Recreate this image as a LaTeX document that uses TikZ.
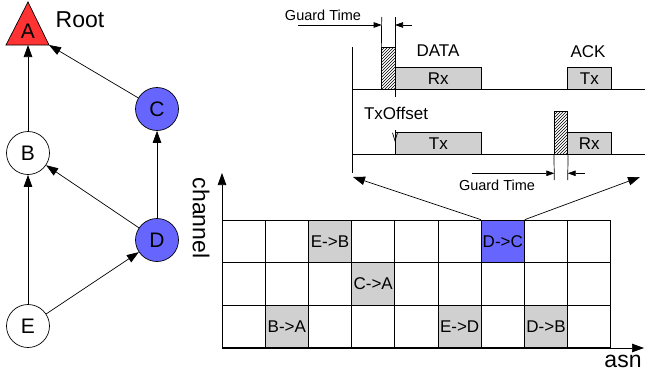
\documentclass[tikz,border=0pt]{standalone}
\usepackage{fontspec}
\setmainfont{Liberation Sans}
\usetikzlibrary{arrows.meta,patterns}
\definecolor{rootred}{HTML}{FF3333}
\definecolor{slotblue}{HTML}{6666FF}
\definecolor{slotgray}{HTML}{D0D0D0}
\begin{document}
\begin{tikzpicture}[x=1pt,y=-1pt,line width=0.7pt,
        >={Triangle[length=12pt,width=8.5pt]},
        every node/.style = {font=\fontsize{17}{19}\selectfont},
        mote/.style = {shape=circle, draw, fill=white,
            minimum size=43pt, inner sep=0pt, font=\fontsize{21}{23}\selectfont},
        cell/.style = {draw, minimum width=43.2pt, minimum height=42.6pt, inner sep=0pt},
        busy/.style = {cell, fill=slotgray},
        slot/.style = {draw, fill=slotgray, inner sep=0pt, minimum height=22.2pt},
        guard/.style = {draw, pattern=north east lines, inner sep=0pt},
        small/.style = {font=\fontsize{14.5}{16}\selectfont},
        big/.style = {font=\fontsize{23}{25}\selectfont},
        gt/.style = {-{Triangle[length=8pt,width=5.5pt]}}]
    \useasboundingbox (0,0) rectangle (645,378);

    \draw[fill=rootred] (28,2) -- (49,45) -- (6,45) -- cycle;
    \coordinate (Abase) at (28,45);
    \coordinate (Acorner) at (49,45);
    \node[font=\fontsize{21}{23}\selectfont] (A) at (28,31) {A};
    \node[big] (root) at (80,20) {Root};
    \node[mote] (B) at (28,153) {B};
    \node[mote, fill=slotblue] (C) at (157,109) {C};
    \node[mote, fill=slotblue] (D) at (157,240) {D};
    \node[mote] (E) at (28,326) {E};
    \draw[->] (B) -- (Abase);
    \draw[->] (C) -- (Acorner);
    \draw[->] (D) -- (C);
    \draw[->] (D) -- (B);
    \draw[->] (E) -- (B);
    \draw[->] (E) -- (D);

    \foreach \r in {1,2,3}
        \foreach \c in {1,...,9}
            \node[cell] (s\r\c) at ({222+43.2*\c-21.6},{220+42.6*\r-21.3}) {};
    \node[busy] at (s13) {E->B};
    \node[cell, fill=slotblue] (dc) at (s17) {D->C};
    \node[busy] at (s24) {C->A};
    \node[busy] at (s32) {B->A};
    \node[busy] at (s36) {E->D};
    \node[busy] at (s38) {D->B};
    \coordinate (o) at (222,348);
    \coordinate (ytop) at (222,173);
    \coordinate (xend) at (644,348);
    \draw[->] (o) -- (ytop);
    \draw[->] (o) -- (xend);
    \node[big, rotate=-90] (channel) at (201,218) {channel};
    \node[big] (asn) at (623,361) {asn};

    \draw (352,47) -- (352,173);
    \draw (352,89.5) -- (645,89.5);
    \draw (352,154.5) -- (645,154.5);
    \node[guard, minimum width=13.3pt, minimum height=42.2pt] (g1) at (388.35,68.4) {};
    \node[slot, minimum width=86.7pt] (rx1) at (438.35,78.4) {Rx};
    \node[slot, minimum width=43.3pt] (tx1) at (589.35,78.4) {Tx};
    \node[slot, minimum width=86.7pt] (tx2) at (438.35,143.6) {Tx};
    \node[guard, minimum width=13.4pt, minimum height=42.8pt] (g2) at (561,133.1) {};
    \node[slot, minimum width=43.3pt] (rx2) at (589.35,143.6) {Rx};
    \node (data) at (438,51) {DATA};
    \node (ack) at (588,52) {ACK};
    \node (txoff) at (396,113) {TxOffset};

    \draw (381.7,17) -- (g1.north west);
    \draw (395,17) -- (395,97);
    \draw[gt] (298,25) -- (381.7,25);
    \draw[gt] (411.7,25) -- (395,25);
    \node[small] (gtop) at (323,15) {Guard Time};
    \draw[-{Straight Barb[length=8pt,width=5pt]}] (395,130) -- (395,142);
    \draw (g2.south west) -- (554.3,180);
    \draw (g2.south east) -- (567.7,180);
    \draw[gt] (471.7,173.3) -- (554.3,173.3);
    \draw[gt] (585,173.3) -- (567.7,173.3);
    \node[small] (gbot) at (497,185) {Guard Time};

    \coordinate (zl) at (353,177);
    \coordinate (zr) at (640,177);
    \draw[->] (dc.north west) -- (zl);
    \draw[->] (dc.north east) -- (zr);
\end{tikzpicture}
\end{document}
